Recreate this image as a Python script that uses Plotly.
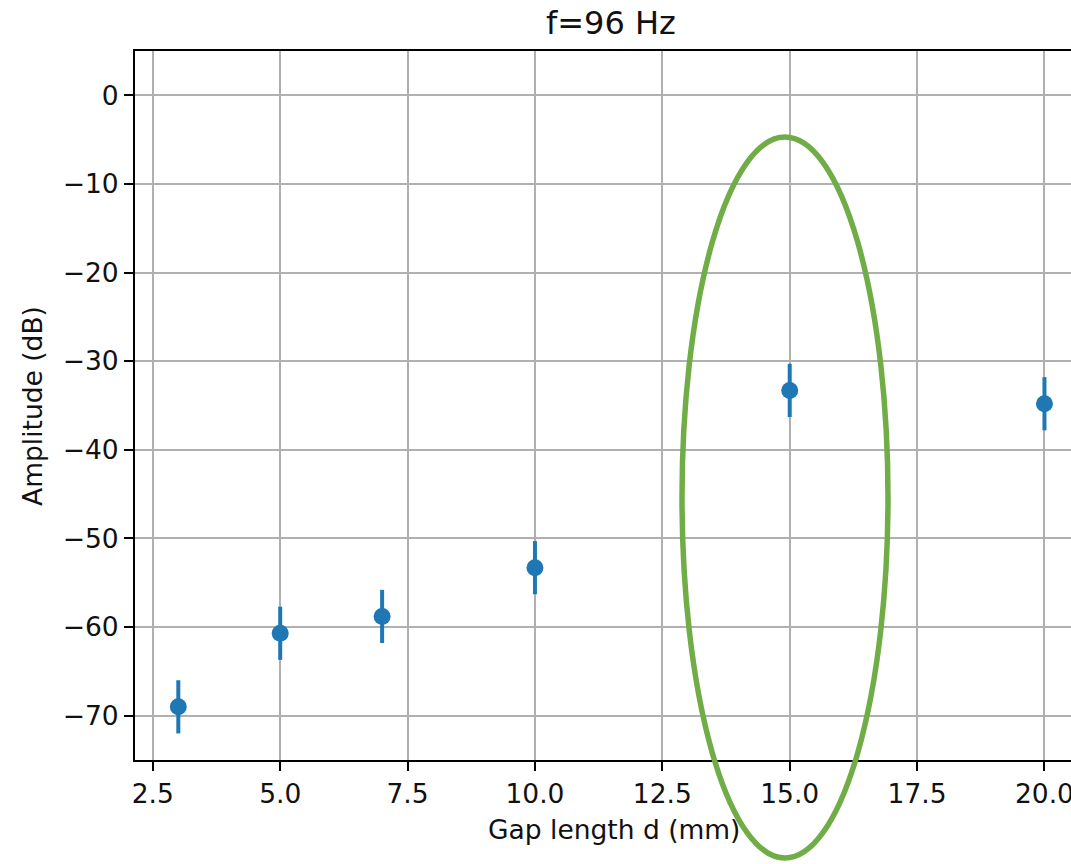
import plotly.graph_objects as go

# Data
gap_mm = [3, 5, 7, 10, 15, 20]
amplitude_db = [-69.0, -60.7, -58.8, -53.3, -33.3, -34.8]
amplitude_err = [3.0, 3.0, 3.0, 3.0, 3.0, 3.0]

x_ticks = [2.5, 5.0, 7.5, 10.0, 12.5, 15.0, 17.5, 20.0]
y_ticks = [0, -10, -20, -30, -40, -50, -60, -70]

FONT = "DejaVu Sans"
BLUE = "#1f77b4"
TXT = "#111111"

W, H = 1071, 864
L, R, T, B = 135, 0, 51, 104

fig = go.Figure()
fig.add_trace(go.Scatter(
    x=gap_mm, y=amplitude_db, mode="markers",
    marker=dict(color=BLUE, size=17, line=dict(width=0)),
    error_y=dict(type="data", array=amplitude_err, visible=True,
                 color=BLUE, thickness=4, width=0),
    showlegend=False,
))

axis_common = dict(
    showgrid=True, gridcolor="#b0b0b0", gridwidth=2,
    zeroline=False, showline=True, linecolor="black", linewidth=2,
    ticks="outside", ticklen=9, tickwidth=2, tickcolor="black",
    tickfont=dict(family=FONT, size=26.5, color=TXT),
    ticklabeloverflow="allow",
    automargin=False,
)

fig.update_xaxes(range=[2.15, 2.15 + (W - L - R) / 50.95],
                 tickvals=x_ticks, ticktext=[f"{v:.1f}" for v in x_ticks],
                 mirror=True, **axis_common)
fig.update_yaxes(range=[-75, 5], tickvals=y_ticks,
                 ticktext=[("\u2212" + str(-v)) if v < 0 else str(v) for v in y_ticks],
                 mirror=False, **axis_common)

pw = W - L - R
ph = H - T - B

def px_x(p):
    return (p - L) / pw

def px_y(p):
    return (H - B - p) / ph

annotations = [
    dict(text="f=96 Hz", x=px_x(611), y=px_y(23), xref="paper", yref="paper",
         xanchor="center", yanchor="middle", showarrow=False,
         font=dict(family=FONT, size=32, color=TXT)),
    dict(text="Gap length d (mm)", x=px_x(614), y=px_y(829), xref="paper", yref="paper",
         xanchor="center", yanchor="middle", showarrow=False,
         font=dict(family=FONT, size=26.5, color=TXT)),
    dict(text="Amplitude (dB)", x=px_x(32), y=px_y(406), xref="paper", yref="paper",
         xanchor="center", yanchor="middle", showarrow=False, textangle=-90,
         font=dict(family=FONT, size=26.5, color=TXT)),
]

# Highlight ellipse (annotation overlay)
fig.add_shape(type="circle", xref="paper", yref="paper",
              x0=px_x(682), x1=px_x(888), y0=px_y(858), y1=px_y(137),
              line=dict(color="#70ad47", width=5.5), layer="above")

fig.update_layout(
    width=W, height=H,
    margin=dict(l=L, r=R, t=T, b=B, pad=0, autoexpand=False),
    paper_bgcolor="white", plot_bgcolor="white",
    annotations=annotations,
    font=dict(family=FONT),
)

fig.write_html("out.html")
